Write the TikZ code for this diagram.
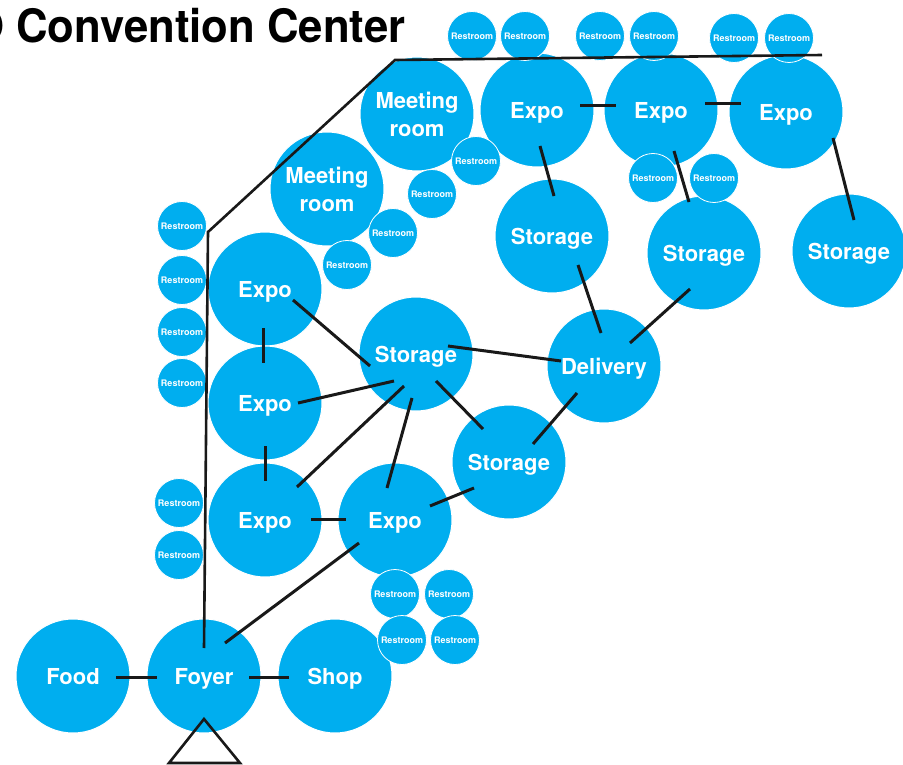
\documentclass[tikz,border=0pt]{standalone}
\usepackage{graphicx}
\usepackage{fontspec}
\setmainfont{TeX Gyre Heros}
\definecolor{roomblue}{RGB}{0,174,239}
\begin{document}
\begin{tikzpicture}[x=1pt, y=-1pt,
    bubble/.style={circle, fill=roomblue, draw=white, line width=1pt, minimum size=114pt, inner sep=0pt,
        text=white, font=\fontsize{22}{28}\selectfont\bfseries, align=center},
    room/.style={bubble, text depth=0pt},
    restroom/.style={circle, fill=roomblue, draw=white, line width=0.8pt, minimum size=49pt, inner sep=0pt,
        text=white, font=\fontsize{9}{9}\selectfont\bfseries},
    link/.style={line width=3pt, draw=black!90},
    wall/.style={line width=2.6pt, draw=black!90}]

    \useasboundingbox (0,0) rectangle (903,765);

    %% Title
    \node[anchor=base west, inner sep=0pt] (title) at (-30,43)
        {\scalebox{0.95}[1]{\fontsize{46}{46}\selectfont\bfseries O Convention Center}};

    %% Rooms

    % Ground floor
    \node[room] (food) at (73,676) {Food};
    \node[room] (foyer) at (204,676) {Foyer};
    \node[room] (shop) at (335,676) {Shop};

    % Expo halls
    \node[room] (expoA) at (265,289) {Expo};
    \node[room] (expoB) at (265,403) {Expo};
    \node[room] (expoC) at (265,520) {Expo};
    \node[room] (expoD) at (395,520) {Expo};
    \node[room] (expoE) at (537,110) {Expo};
    \node[room] (expoF) at (661,110) {Expo};
    \node[room] (expoG) at (786,112) {Expo};

    % Storage and delivery
    \node[room] (storeA) at (416,354) {Storage};
    \node[room] (storeB) at (509,462) {Storage};
    \node[room] (storeC) at (552,236) {Storage};
    \node[room] (storeD) at (704,253) {Storage};
    \node[room] (storeE) at (849,251) {Storage};
    \node[room] (delivery) at (604,366) {Delivery};

    % Meeting rooms
    \node[bubble] (meetA) at (417,114) {Meeting\\room};
    \node[bubble] (meetB) at (327,189) {Meeting\\room};

    % Restrooms
    \node[restroom] (rr1) at (472,36) {Restroom};
    \node[restroom] (rr2) at (525,36) {Restroom};
    \node[restroom] (rr3) at (600,36) {Restroom};
    \node[restroom] (rr4) at (654,36) {Restroom};
    \node[restroom] (rr5) at (734,38) {Restroom};
    \node[restroom] (rr6) at (789,38) {Restroom};
    \node[restroom] (rr7) at (476,161) {Restroom};
    \node[restroom] (rr8) at (432,194) {Restroom};
    \node[restroom] (rr9) at (393,233) {Restroom};
    \node[restroom] (rr10) at (347,265) {Restroom};
    \node[restroom] (rr11) at (653,178) {Restroom};
    \node[restroom] (rr12) at (714,178) {Restroom};
    \node[restroom] (rr13) at (182,226) {Restroom};
    \node[restroom] (rr14) at (182,280) {Restroom};
    \node[restroom] (rr15) at (182,332) {Restroom};
    \node[restroom] (rr16) at (182,383) {Restroom};
    \node[restroom] (rr17) at (179,503) {Restroom};
    \node[restroom] (rr18) at (179,555) {Restroom};
    \node[restroom] (rr19) at (395,594) {Restroom};
    \node[restroom] (rr20) at (449,594) {Restroom};
    \node[restroom] (rr21) at (402,640) {Restroom};
    \node[restroom] (rr22) at (455,640) {Restroom};

    %% Links
    \draw[link] ([shift={(43,1)}]food.center) -- ([shift={(-47,1)}]foyer.center);
    \draw[link] ([shift={(45,1)}]foyer.center) -- ([shift={(-46,1)}]shop.center);
    \draw[link] ([shift={(21,-33)}]foyer.center) -- ([shift={(-36,23)}]expoD.center);
    \draw[link] ([shift={(-2,39)}]expoA.center) -- ([shift={(-2,-40)}]expoB.center);
    \draw[link] ([shift={(0,43)}]expoB.center) -- ([shift={(0,-39)}]expoC.center);
    \draw[link] ([shift={(46,-1)}]expoC.center) -- ([shift={(-49,-1)}]expoD.center);
    \draw[link] ([shift={(28,11)}]expoA.center) -- ([shift={(-46,12)}]storeA.center);
    \draw[link] ([shift={(33,0)}]expoB.center) -- ([shift={(-22,27)}]storeA.center);
    \draw[link] ([shift={(32,-33)}]expoC.center) -- ([shift={(-12,32)}]storeA.center);
    \draw[link] ([shift={(-8,-32)}]expoD.center) -- ([shift={(-4,44)}]storeA.center);
    \draw[link] ([shift={(20,27)}]storeA.center) -- ([shift={(-26,-33)}]storeB.center);
    \draw[link] ([shift={(32,-8)}]storeA.center) -- ([shift={(-43,-5)}]delivery.center);
    \draw[link] ([shift={(35,-14)}]expoD.center) -- ([shift={(-35,26)}]storeB.center);
    \draw[link] ([shift={(24,-18)}]storeB.center) -- ([shift={(-27,27)}]delivery.center);
    \draw[link] ([shift={(-3,-33)}]delivery.center) -- ([shift={(26,29)}]storeC.center);
    \draw[link] ([shift={(26,-23)}]delivery.center) -- ([shift={(-14,36)}]storeD.center);
    \draw[link] ([shift={(3,36)}]expoE.center) -- ([shift={(2,-40)}]storeC.center);
    \draw[link] ([shift={(43,-4)}]expoE.center) -- ([shift={(-45,-4)}]expoF.center);
    \draw[link] ([shift={(44,-6)}]expoF.center) -- ([shift={(-45,-8)}]expoG.center);
    \draw[link] ([shift={(13,41)}]expoF.center) -- ([shift={(-15,-51)}]storeD.center);
    \draw[link] ([shift={(47,26)}]expoG.center) -- ([shift={(5,-31)}]storeE.center);

    %% Outer wall
    \coordinate (bendA) at (208,232);
    \coordinate (bendB) at (395,60);
    \coordinate (wallEnd) at (822,55);
    \draw[wall] ([shift={(0,-28)}]foyer.center) -- (bendA) -- (bendB) -- (wallEnd);

    %% Entrance
    \coordinate (doorL) at (169,763);
    \coordinate (doorR) at (240,763);
    \draw[wall] ([shift={(0,43)}]foyer.center) -- (doorR) -- (doorL) -- cycle;

\end{tikzpicture}
\end{document}
